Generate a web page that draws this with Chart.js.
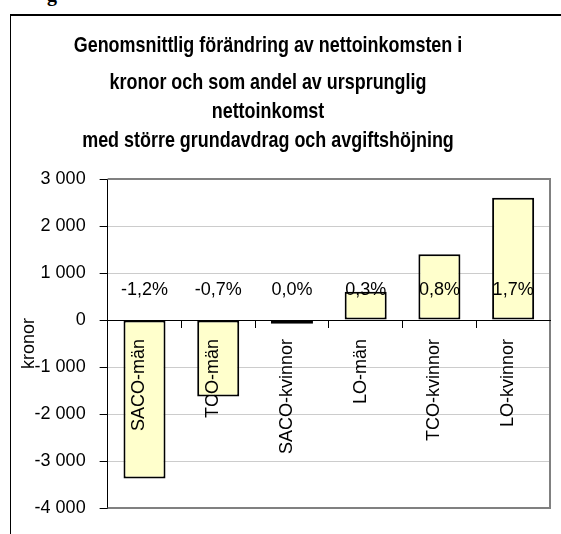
<!DOCTYPE html>
<html>
<head>
<meta charset="utf-8">
<script src="https://cdn.jsdelivr.net/npm/chart.js@4"></script>
<style>
  html, body { margin: 0; padding: 0; background: #fff; }
  body { width: 561px; height: 534px; position: relative; overflow: hidden; }
  #head { position: absolute; left: 47px; top: -16px; font: bold 20px 'Liberation Serif', serif; line-height: 20px; }
  #frame { position: absolute; left: 10px; top: 14px; width: 600px; height: 600px; border-top: 2px solid #000; border-left: 1px solid #000; }
  #wrap { position: absolute; left: 0; top: 0; }
</style>
</head>
<body>
<div id="head">g</div>
<div id="frame"></div>
<div id="wrap"><canvas id="chart" width="561" height="534"></canvas></div>
<script>
// Data
const categories = ['SACO-män', 'TCO-män', 'SACO-kvinnor', 'LO-män', 'TCO-kvinnor', 'LO-kvinnor'];
const kronor = [-3370, -1630, -80, 600, 1400, 2600];
const andel = ['-1,2%', '-0,7%', '0,0%', '0,3%', '0,8%', '1,7%'];
const yTickValues = [-4000, -3000, -2000, -1000, 0, 1000, 2000, 3000];
const titleLines = [
    'Genomsnittlig förändring av nettoinkomsten i',
    'kronor och som andel av ursprunglig',
    'nettoinkomst',
    'med större grundavdrag och avgiftshöjning'
];

const FONT = "'Liberation Sans', Arial, sans-serif";
const pctLevel = 640; // value level where the percent labels sit

// Format numbers like "3 000" / "-4 000"
function formatKr(v) {
    const s = String(Math.abs(v)).replace(/\B(?=(\d{3})+(?!\d))/g, ' ');
    return (v < 0 ? '-' : '') + s;
}

// Plot frame, percent labels and the title
const extras = {
    id: 'extras',
    beforeDatasetsDraw(chart) {
        const { ctx, chartArea: a } = chart;
        ctx.save();
        ctx.strokeStyle = '#808080';
        ctx.lineWidth = 2;
        ctx.beginPath();
        ctx.moveTo(a.left, a.top);
        ctx.lineTo(a.right, a.top);
        ctx.lineTo(a.right, a.bottom);
        ctx.lineTo(a.left, a.bottom);
        ctx.stroke();
        ctx.restore();
    },
    afterDraw(chart) {
        const { ctx } = chart;
        const xs = chart.scales.x, ys = chart.scales.y;
        ctx.save();
        ctx.fillStyle = '#000';
        ctx.textAlign = 'center';
        ctx.textBaseline = 'middle';
        ctx.font = '18px ' + FONT;
        andel.forEach((t, i) => ctx.fillText(t, xs.getPixelForValue(i), ys.getPixelForValue(pctLevel)));

        // title is a condensed bold face, so squeeze it horizontally
        const baselines = [52, 89, 118, 147];
        const sx = 0.815;
        ctx.textBaseline = 'alphabetic';
        ctx.font = 'bold 22px ' + FONT;
        ctx.scale(sx, 1);
        titleLines.forEach((t, i) => ctx.fillText(t, 268 / sx, baselines[i]));
        ctx.restore();
    }
};

new Chart(document.getElementById('chart').getContext('2d'), {
    type: 'bar',
    data: {
        labels: categories,
        datasets: [{
            data: kronor,
            backgroundColor: '#FFFFCC',
            borderColor: '#000',
            borderWidth: 2,
            borderSkipped: false,
            barPercentage: 0.57,
            categoryPercentage: 1
        }]
    },
    options: {
        responsive: false,
        animation: false,
        layout: { padding: { left: 16, right: 11, top: 179, bottom: 26 } },
        plugins: {
            legend: { display: false },
            tooltip: { enabled: false },
            title: { display: false }
        },
        scales: {
            x: {
                position: { y: 0 },
                ticks: {
                    z: 1,
                    color: '#000',
                    font: { family: FONT, size: 18 },
                    minRotation: 90,
                    maxRotation: 90,
                    autoSkip: false,
                    padding: 12,
                    labelOffset: -5
                },
                grid: { offset: true, drawOnChartArea: false, tickLength: 7, tickColor: '#000' },
                border: { z: 1, color: '#000', width: 1 }
            },
            y: {
                min: -4000,
                max: 3000,
                afterBuildTicks: scale => {
                    scale.ticks = yTickValues.map(v => ({ value: v }));
                },
                ticks: {
                    color: '#000',
                    font: { family: FONT, size: 18 },
                    padding: 14,
                    callback: v => formatKr(v)
                },
                grid: { color: '#cccccc', tickColor: '#000', tickLength: 8 },
                border: { color: '#000', width: 1 },
                title: {
                    display: true,
                    text: 'kronor',
                    color: '#000',
                    font: { family: FONT, size: 18 },
                    padding: { top: 2, bottom: -19 }
                }
            }
        }
    },
    plugins: [extras]
});
</script>
</body>
</html>
